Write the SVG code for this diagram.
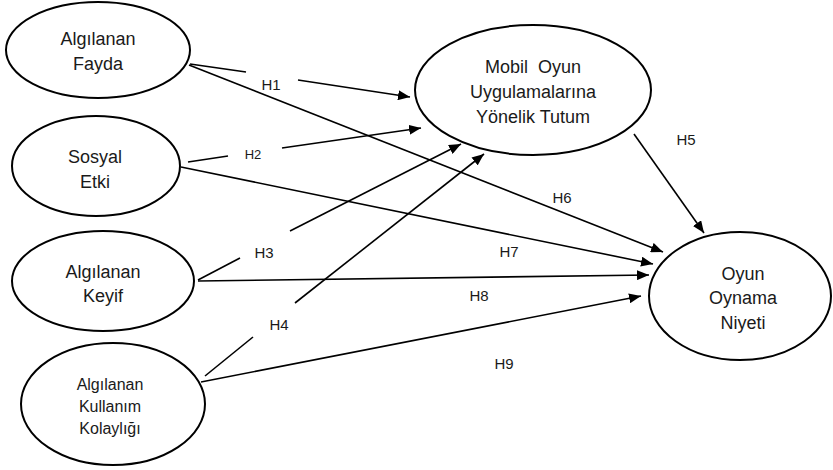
<svg xmlns="http://www.w3.org/2000/svg" width="833" height="470" viewBox="0 0 833 470">
<style>
.n{fill:#fff;stroke:#000;stroke-width:2}
.t{font-family:"Liberation Sans",Arial,sans-serif;font-size:18px;fill:#1a1a1a;text-anchor:middle;white-space:pre}
.s{font-size:16px}
.l{font-family:"Liberation Sans",Arial,sans-serif;font-size:15px;fill:#1a1a1a;text-anchor:middle}
.c{fill:none;stroke:#000;stroke-width:1.6}
</style>
<defs>
<marker id="a" viewBox="0 0 12 10" refX="12" refY="5" markerWidth="12" markerHeight="10" markerUnits="userSpaceOnUse" orient="auto">
<path d="M0,0 L12,5 L0,10 z" fill="#000"/>
</marker>
</defs>
<rect width="833" height="470" fill="#fff"/>
<g id="connectors">
<path class="c" d="M190,64 L246,72"/>
<path class="c" d="M298,80 L410,97" marker-end="url(#a)"/>
<path class="c" d="M189,65 L663,252" marker-end="url(#a)"/>
<path class="c" d="M188,162 L228,156"/>
<path class="c" d="M282,148 L421,128" marker-end="url(#a)"/>
<path class="c" d="M181,167 L653,264" marker-end="url(#a)"/>
<path class="c" d="M198,280 L240,258"/>
<path class="c" d="M290,231 L461,144" marker-end="url(#a)"/>
<path class="c" d="M205,376 L253,337"/>
<path class="c" d="M295,303 L484,154" marker-end="url(#a)"/>
<path class="c" d="M198,281 L649,275" marker-end="url(#a)"/>
<path class="c" d="M201,382 L641,296" marker-end="url(#a)"/>
<path class="c" d="M634,134 L704,233" marker-end="url(#a)"/>
<text class="l" x="271" y="90">H1</text>
<text class="l" x="253" y="159" style="font-size:13px">H2</text>
<text class="l" x="264" y="258">H3</text>
<text class="l" x="279" y="330">H4</text>
<text class="l" x="686" y="145">H5</text>
<text class="l" x="562" y="203">H6</text>
<text class="l" x="509" y="257">H7</text>
<text class="l" x="479" y="301">H8</text>
<text class="l" x="504" y="369">H9</text>
</g>
<g id="fayda">
<ellipse class="n" cx="98" cy="50" rx="92" ry="48"/>
<text class="t" x="98" y="45">Algılanan</text>
<text class="t" x="98" y="70">Fayda</text>
</g>
<g id="sosyal">
<ellipse class="n" cx="96" cy="166" rx="84" ry="50"/>
<text class="t" x="95" y="163">Sosyal</text>
<text class="t" x="95" y="188">Etki</text>
</g>
<g id="keyif">
<ellipse class="n" cx="103" cy="281" rx="91" ry="50"/>
<text class="t" x="103" y="278">Algılanan</text>
<text class="t" x="103" y="302">Keyif</text>
</g>
<g id="kolaylik">
<ellipse class="n" cx="113" cy="404" rx="92" ry="61"/>
<text class="t s" x="110" y="390">Algılanan</text>
<text class="t s" x="110" y="412">Kullanım</text>
<text class="t s" x="110" y="434">Kolaylığı</text>
</g>
<g id="tutum">
<ellipse class="n" cx="533" cy="90" rx="118" ry="65"/>
<text class="t" x="533" y="73">Mobil  Oyun</text>
<text class="t" x="533" y="98">Uygulamalarına</text>
<text class="t" x="533" y="123">Yönelik Tutum</text>
</g>
<g id="niyet">
<ellipse class="n" cx="740" cy="296" rx="91" ry="64"/>
<text class="t" x="743" y="280">Oyun</text>
<text class="t" x="743" y="304">Oynama</text>
<text class="t" x="743" y="329">Niyeti</text>
</g>
</svg>
